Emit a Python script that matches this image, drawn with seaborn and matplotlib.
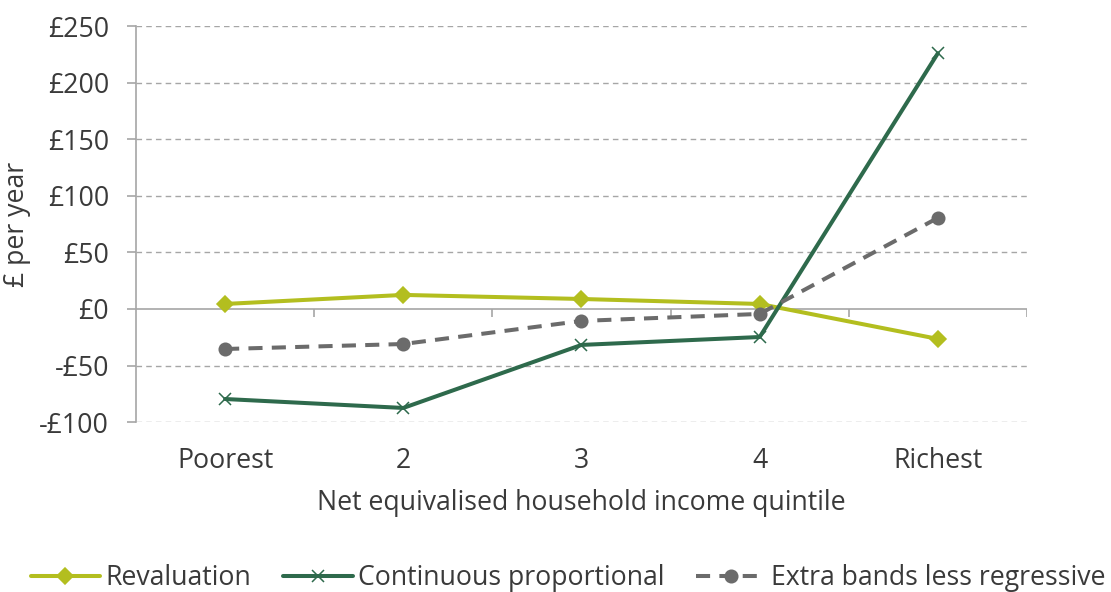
import pandas as pd
import seaborn as sns
import matplotlib.pyplot as plt

quintiles = ["Poorest", "2", "3", "4", "Richest"]
revaluation = [4.4, 12.4, 8.8, 4.4, -26.5]
continuous = [-79.6, -87.5, -31.8, -24.8, 226]
extra_bands = [-35.4, -31, -10.6, -4.4, 80.5]
yticks = [-100, -50, 0, 50, 100, 150, 200, 250]
ytick_labels = ["-£100", "-£50", "£0", "£50", "£100", "£150", "£200", "£250"]

df = pd.DataFrame({"quintile": quintiles, "Revaluation": revaluation,
                   "Continuous proportional": continuous,
                   "Extra bands less regressive": extra_bands})

sns.set_style("white")
plt.rcParams["font.family"] = ["Open Sans", "DejaVu Sans"]
TXT = "#3a3a3a"
AXC = "#a6a6a6"
FS = 19.2

fig = plt.figure(figsize=(11.11, 5.92), dpi=100)
ax = fig.add_axes([0.1224, 0.287, 0.802, 0.669])

# one call per series (seaborn won't mix filled and line markers)
styles = [
    ("Revaluation", "#b3be1f", "D", 8, "-"),
    ("Continuous proportional", "#2e6a4c", "x", 9, "-"),
    ("Extra bands less regressive", "#6b6b6b", "o", 9, (0, (3.5, 2.3))),
]
for col, c, m, ms, ls in styles:
    sns.lineplot(data=df, x="quintile", y=col, color=c, marker=m, markersize=ms,
                 markeredgewidth=1.1, markeredgecolor=c, linewidth=2.9, linestyle=ls,
                 sort=False, label=col, ax=ax)

ax.set_xlim(-0.5, 4.5)
ax.set_ylim(-100, 250)
ax.set_yticks(yticks)
ax.set_yticklabels(ytick_labels)
for y in yticks:
    if y != 0:
        ax.axhline(y, color=AXC, lw=1, ls=(0, (4, 3)), zorder=0)
ax.axhline(0, color=AXC, lw=1.2, zorder=1)
ax.vlines([0.5, 1.5, 2.5, 3.5, 4.5], -7.5, 0, color=AXC, lw=1.2, zorder=1)

for s in ["top", "right", "bottom"]:
    ax.spines[s].set_visible(False)
ax.spines["left"].set_color(AXC)
ax.spines["left"].set_linewidth(1.2)
ax.tick_params(axis="y", length=6.5, width=1.2, color=AXC, labelsize=FS, labelcolor=TXT, pad=13, left=True)
ax.tick_params(axis="x", length=0, labelsize=FS, labelcolor=TXT, pad=18)

ax.set_xlabel("Net equivalised household income quintile", fontsize=FS, color=TXT, labelpad=10)
ax.set_ylabel("£ per year", fontsize=FS, color=TXT, labelpad=6)

handles, labels = ax.get_legend_handles_labels()
ax.legend(handles, labels, loc="center", bbox_to_anchor=(0.485, -0.394), ncol=3, frameon=False,
          fontsize=FS, handlelength=2.6, handletextpad=0.2, columnspacing=1.2, labelcolor=TXT)

fig.savefig("out.png", dpi=100)
